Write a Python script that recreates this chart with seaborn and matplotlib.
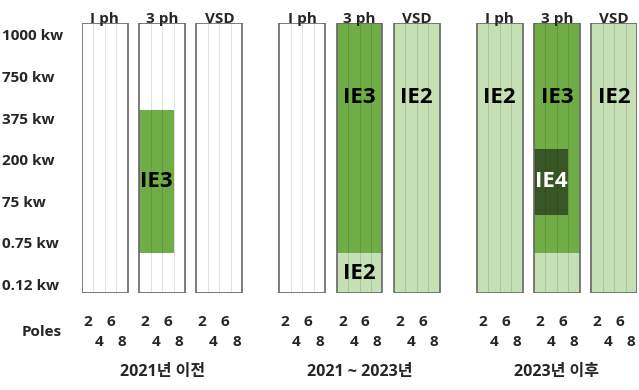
import matplotlib
matplotlib.use("Agg")
import matplotlib.pyplot as plt
import seaborn as sns

# --- data ---
periods = ["2021년 이전", "2021 ~ 2023년", "2023년 이후"]
phases = ["I ph", "3 ph", "VSD"]
poles = ["2", "4", "6", "8"]
power_labels = ["0.12 kw", "0.75 kw", "75 kw", "200 kw", "375 kw", "750 kw", "1000 kw"]

# efficiency-class regions: period, phase, number of poles covered, low/high power level (row index)
band_period = [0, 1, 1, 1, 2, 2, 2, 2, 2]
band_phase = [1, 1, 1, 2, 0, 1, 1, 1, 2]
band_poles = [3, 4, 4, 4, 4, 4, 4, 3, 4]
band_low = [0.75, 0.75, -0.2, -0.2, -0.2, 0.75, -0.2, 1.68, -0.2]
band_high = [4.2, 6.28, 0.75, 6.28, 6.28, 6.28, 0.75, 3.26, 6.28]
band_class = ["IE3", "IE3", "IE2", "IE2", "IE2", "IE3", "IE2", "IE4", "IE2"]
band_text = [True, True, True, True, True, True, False, True, True]

class_colors = {"IE2": "#c5e0b4", "IE3": "#70ad47", "IE4": "#375623"}
text_colors = {"IE2": "black", "IE3": "black", "IE4": "white"}

# layout
BOX_W = 4
PHASE_STEP = 5
PERIOD_STEP = 17.25
Y_MIN, Y_MAX = -0.2, 6.28
TALL_LABEL_Y = 4.5
FS = 11

sns.set_theme(style="white")
plt.rcParams["font.family"] = ["Open Sans", "Noto Sans CJK KR", "DejaVu Sans"]
plt.rcParams["font.weight"] = "bold"

fig = plt.figure(figsize=(6.39, 3.9), dpi=100)
ax = fig.add_axes([82 / 639, 97 / 390, 555 / 639, 270 / 390])


def box_left(period, phase):
    return period * PERIOD_STEP + phase * PHASE_STEP


# coloured efficiency regions
for g, p, n, lo, hi, cls, show in zip(band_period, band_phase, band_poles,
                                      band_low, band_high, band_class, band_text):
    x0 = box_left(g, p)
    ax.bar(x0, hi - lo, bottom=lo, width=n, align="edge",
           color=class_colors[cls], linewidth=0, zorder=1)
    if show:
        y = TALL_LABEL_Y if hi - lo > 5 else (lo + hi) / 2
        ax.text(x0 + n / 2, y, cls, ha="center", va="center", fontsize=16,
                fontweight="bold", color=text_colors[cls], zorder=4)

# pole grid lines + box outlines + headers + pole labels
for g in range(len(periods)):
    for p, name in enumerate(phases):
        x0 = box_left(g, p)
        for i in range(1, len(poles)):
            ax.plot([x0 + i, x0 + i], [Y_MIN, Y_MAX], color="black", alpha=0.12,
                    lw=0.7, zorder=2)
        ax.bar(x0, Y_MAX - Y_MIN, bottom=Y_MIN, width=BOX_W, align="edge",
               facecolor="none", edgecolor="#666666", linewidth=1.2, zorder=3)
        ax.text(x0 + BOX_W / 2, Y_MAX, name, ha="center", va="baseline",
                fontsize=FS, fontweight="bold", zorder=5)
        for i, pole in enumerate(poles):
            ax.text(x0 + i + 0.5, -0.107 if i % 2 == 0 else -0.181, pole,
                    transform=ax.get_xaxis_transform(), ha="center", va="center",
                    fontsize=FS, fontweight="bold")
    ax.text(g * PERIOD_STEP + (2 * PHASE_STEP + BOX_W) / 2, -0.293, periods[g],
            transform=ax.get_xaxis_transform(), ha="center", va="center",
            fontsize=FS + 0.5, fontweight="bold")

ax.text(-0.072, -0.144, "Poles", transform=ax.transAxes, ha="center",
        va="center", fontsize=FS, fontweight="bold")

ax.set_xlim(0, 2 * PERIOD_STEP + 2 * PHASE_STEP + BOX_W)
ax.set_ylim(Y_MIN, Y_MAX)
ax.set_xticks([])
ax.set_yticks(range(len(power_labels)))
ax.set_yticklabels(power_labels, fontsize=FS, fontweight="bold")
ax.tick_params(axis="y", length=0, pad=57.6)
for lab in ax.get_yticklabels():
    lab.set_horizontalalignment("left")
sns.despine(ax=ax, left=True, bottom=True)

fig.savefig("out.png", dpi=100)
